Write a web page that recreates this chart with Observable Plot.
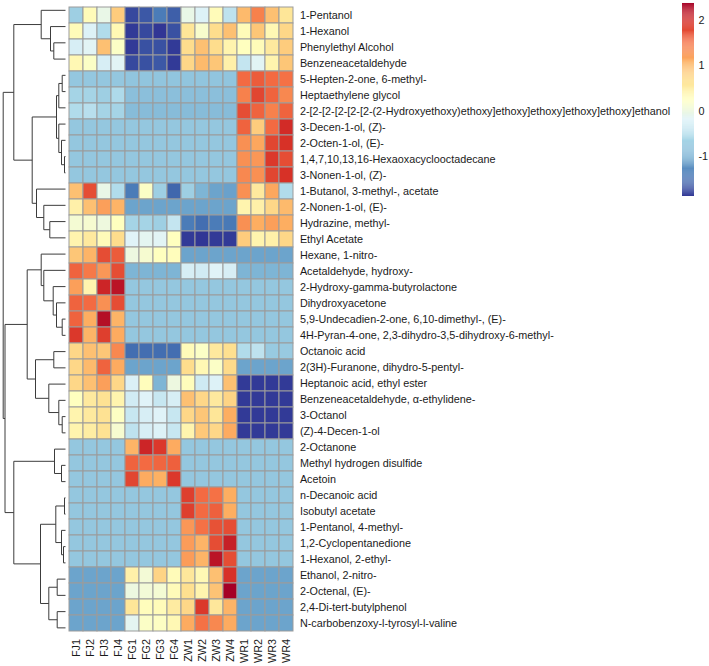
<!DOCTYPE html>
<html>
<head>
<meta charset="utf-8">
<script src="https://cdn.jsdelivr.net/npm/d3@7"></script>
<script src="https://cdn.jsdelivr.net/npm/@observablehq/plot@0.6"></script>
<style>
  html, body { margin: 0; padding: 0; background: #fff; }
  #chart { position: relative; width: 709px; height: 666px; overflow: hidden; background: #fff; }
  #chart svg { position: absolute; }
</style>
</head>
<body>
<div id="chart"></div>
<script>
// Samples (columns) and compounds (rows, in dendrogram order)
const samples = ["FJ1", "FJ2", "FJ3", "FJ4", "FG1", "FG2", "FG3", "FG4", "ZW1", "ZW2", "ZW3", "ZW4", "WR1", "WR2", "WR3", "WR4"];

const compounds = [
  "1-Pentanol",
  "1-Hexanol",
  "Phenylethyl Alcohol",
  "Benzeneacetaldehyde",
  "5-Hepten-2-one, 6-methyl-",
  "Heptaethylene glycol",
  "2-[2-[2-[2-[2-[2-(2-Hydroxyethoxy)ethoxy]ethoxy]ethoxy]ethoxy]ethoxy]ethanol",
  "3-Decen-1-ol, (Z)-",
  "2-Octen-1-ol, (E)-",
  "1,4,7,10,13,16-Hexaoxacyclooctadecane",
  "3-Nonen-1-ol, (Z)-",
  "1-Butanol, 3-methyl-, acetate",
  "2-Nonen-1-ol, (E)-",
  "Hydrazine, methyl-",
  "Ethyl Acetate",
  "Hexane, 1-nitro-",
  "Acetaldehyde, hydroxy-",
  "2-Hydroxy-gamma-butyrolactone",
  "Dihydroxyacetone",
  "5,9-Undecadien-2-one, 6,10-dimethyl-, (E)-",
  "4H-Pyran-4-one, 2,3-dihydro-3,5-dihydroxy-6-methyl-",
  "Octanoic acid",
  "2(3H)-Furanone, dihydro-5-pentyl-",
  "Heptanoic acid, ethyl ester",
  "Benzeneacetaldehyde, \u03b1-ethylidene-",
  "3-Octanol",
  "(Z)-4-Decen-1-ol",
  "2-Octanone",
  "Methyl hydrogen disulfide",
  "Acetoin",
  "n-Decanoic acid",
  "Isobutyl acetate",
  "1-Pentanol, 4-methyl-",
  "1,2-Cyclopentanedione",
  "1-Hexanol, 2-ethyl-",
  "Ethanol, 2-nitro-",
  "2-Octenal, (E)-",
  "2,4-Di-tert-butylphenol",
  "N-carbobenzoxy-l-tyrosyl-l-valine"
];

// Row-scaled abundance, one array per compound, columns in sample order
const values = [
  [-0.70, 0.30, -0.05, 0.85, -1.75, -1.65, -1.40, -1.60, -0.05, -0.20, 0.30, -0.45, 1.00, 1.40, 0.95, 0.60],
  [0.30, -0.20, -0.55, 0.35, -1.85, -1.75, -1.88, -1.70, 0.60, 0.15, 0.70, 0.95, 0.30, 0.90, 0.35, 0.75],
  [-0.25, -0.15, 0.95, 0.20, -1.85, -1.70, -1.70, -1.85, 0.70, 0.95, 0.70, 0.40, 0.25, 0.30, 0.55, 0.85],
  [0.35, 0.20, -0.25, -0.15, -1.75, -1.70, -1.65, -1.85, 0.75, 1.00, 0.90, 0.45, -0.40, -0.15, 0.40, 0.90],
  [-0.78, -0.78, -0.78, -0.78, -0.80, -0.80, -0.80, -0.80, -0.80, -0.80, -0.80, -0.80, 1.55, 1.65, 1.55, 1.50],
  [-0.65, -0.65, -0.70, -0.58, -0.85, -0.85, -0.85, -0.85, -0.85, -0.85, -0.85, -0.85, 1.40, 1.80, 1.60, 1.35],
  [-0.55, -0.50, -0.65, -0.65, -0.88, -0.88, -0.88, -0.88, -0.88, -0.88, -0.88, -0.88, 1.75, 1.60, 1.40, 1.60],
  [-0.78, -0.78, -0.78, -0.78, -0.78, -0.78, -0.78, -0.78, -0.78, -0.78, -0.78, -0.78, 1.60, 0.85, 1.55, 2.00],
  [-0.78, -0.78, -0.78, -0.78, -0.78, -0.78, -0.78, -0.78, -0.78, -0.78, -0.78, -0.78, 1.30, 1.15, 1.80, 1.95],
  [-0.78, -0.78, -0.78, -0.78, -0.78, -0.78, -0.78, -0.78, -0.78, -0.78, -0.78, -0.78, 1.30, 1.25, 1.90, 1.75],
  [-0.78, -0.78, -0.78, -0.78, -0.78, -0.78, -0.78, -0.78, -0.78, -0.78, -0.78, -0.78, 1.35, 1.30, 1.80, 1.95],
  [0.95, 1.75, -0.05, -0.55, -1.40, 0.20, -0.70, -1.55, -0.70, -0.95, -1.10, -1.12, 1.30, 0.55, 1.15, -0.55],
  [0.45, 0.95, 1.20, 1.05, -1.10, -1.10, -1.10, -1.10, -1.10, -1.10, -1.10, -1.10, 0.40, 0.45, 0.75, 1.00],
  [0.10, 0.12, 0.02, 0.25, -0.65, -0.65, -0.70, -0.40, -1.40, -1.50, -1.40, -1.42, 1.30, 1.10, 1.20, 1.10],
  [0.40, 0.55, 0.30, 0.70, -0.18, -0.12, -0.15, 0.25, -1.85, -1.88, -1.85, -1.85, 0.85, 0.40, 0.45, 0.75],
  [0.90, 1.05, 1.75, 1.65, 0.00, 0.12, 0.25, 0.28, -1.10, -1.10, -1.10, -1.10, -1.10, -1.10, -1.10, -1.10],
  [1.60, 1.45, 1.25, 1.75, -0.95, -0.95, -0.95, -0.95, -0.25, -0.30, -0.18, -0.25, -0.95, -0.95, -0.95, -0.95],
  [1.20, 0.40, 2.05, 2.20, -0.78, -0.78, -0.78, -0.78, -0.78, -0.78, -0.78, -0.78, -0.78, -0.78, -0.78, -0.78],
  [1.60, 1.55, 1.30, 1.75, -0.78, -0.78, -0.78, -0.78, -0.78, -0.78, -0.78, -0.78, -0.78, -0.78, -0.78, -0.78],
  [1.60, 1.10, 2.25, 1.05, -0.78, -0.78, -0.78, -0.78, -0.78, -0.78, -0.78, -0.78, -0.78, -0.78, -0.78, -0.78],
  [1.90, 1.05, 1.85, 1.12, -0.78, -0.78, -0.78, -0.78, -0.78, -0.78, -0.78, -0.78, -0.78, -0.78, -0.78, -0.78],
  [0.75, 0.95, 0.90, 1.35, -1.50, -1.50, -1.50, -1.50, 0.30, 0.20, 0.55, 0.68, -0.55, -0.45, -0.75, -0.75],
  [0.75, 1.00, 1.60, 1.12, -1.10, -1.10, -1.10, -1.10, 0.70, 0.35, 0.20, 0.72, -1.10, -1.10, -1.10, -1.10],
  [0.75, 0.95, 1.20, 0.75, -0.22, 0.28, -0.95, 0.00, 0.28, -0.32, -0.20, 0.95, -1.85, -1.85, -1.85, -1.85],
  [0.25, 0.55, 0.65, 0.40, -0.30, -0.18, -0.38, -0.25, 0.95, 0.75, 0.55, 0.78, -1.85, -1.85, -1.85, -1.85],
  [0.40, 0.55, 0.65, 0.22, -0.38, -0.25, -0.18, -0.38, 0.75, 0.90, 0.60, 1.10, -1.85, -1.85, -1.85, -1.85],
  [0.40, 0.50, 0.65, 0.12, -0.45, -0.25, -0.20, -0.38, 0.40, 0.88, 0.75, 1.12, -1.85, -1.85, -1.85, -1.85],
  [-0.78, -0.78, -0.78, -0.78, 1.05, 2.05, 1.90, 1.12, -0.78, -0.78, -0.78, -0.78, -0.78, -0.78, -0.78, -0.78],
  [-0.78, -0.78, -0.78, -0.78, 1.60, 1.55, 1.58, 1.62, -0.78, -0.78, -0.78, -0.78, -0.78, -0.78, -0.78, -0.78],
  [-0.78, -0.78, -0.78, -0.78, 1.80, 1.12, 1.08, 1.90, -0.78, -0.78, -0.78, -0.78, -0.78, -0.78, -0.78, -0.78],
  [-0.78, -0.78, -0.78, -0.78, -0.78, -0.78, -0.78, -0.78, 1.85, 1.55, 1.50, 1.10, -0.78, -0.78, -0.78, -0.78],
  [-0.78, -0.78, -0.78, -0.78, -0.78, -0.78, -0.78, -0.78, 1.85, 1.55, 1.62, 1.10, -0.78, -0.78, -0.78, -0.78],
  [-0.78, -0.78, -0.78, -0.78, -0.78, -0.78, -0.78, -0.78, 1.25, 1.50, 1.72, 1.75, -0.78, -0.78, -0.78, -0.78],
  [-0.78, -0.78, -0.78, -0.78, -0.78, -0.78, -0.78, -0.78, 1.22, 1.05, 1.75, 2.10, -0.78, -0.78, -0.78, -0.78],
  [-0.78, -0.78, -0.78, -0.78, -0.78, -0.78, -0.78, -0.78, 1.22, 1.05, 2.20, 1.75, -0.78, -0.78, -0.78, -0.78],
  [-1.10, -1.10, -1.10, -1.10, 0.45, 0.08, 0.78, 0.30, 0.58, 0.35, 0.95, 1.95, -1.10, -1.10, -1.10, -1.10],
  [-1.10, -1.10, -1.10, -1.10, 0.00, 0.07, 0.10, 0.30, 0.68, 0.40, 0.92, 2.38, -1.10, -1.10, -1.10, -1.10],
  [-1.10, -1.10, -1.10, -1.10, 0.60, 0.28, 0.30, 0.52, 0.75, 1.90, 0.58, 1.05, -1.10, -1.10, -1.10, -1.10],
  [-1.10, -1.10, -1.10, -1.10, -0.12, 0.20, 0.22, 0.35, 1.12, 1.50, 1.35, 1.12, -1.10, -1.10, -1.10, -1.10]
];

// Row clustering, hclust style: negative = compound (-1 is the first row),
// positive = an earlier merge (1-based); third entry = merge height
const merges = [
  [-3, -4, 11.7], [-2, 1, 15.0], [-1, 2, 24.3],
  [-5, -6, 3.3], [4, -7, 6.7], [-10, -11, 1.0], [-9, 6, 4.0], [-8, 7, 6.7], [5, 8, 9.0],
  [-14, -15, 15.7], [-13, 10, 21.7], [-12, 11, 29.0], [9, 12, 33.3], [3, 13, 51.7],
  [-20, -21, 3.3], [-19, 15, 9.0], [-18, 16, 12.3], [-17, 17, 21.7], [-16, 18, 24.3],
  [-22, -23, 11.7], [-26, -27, 3.3], [-25, 21, 6.7], [-24, 22, 16.7], [20, 23, 30.0], [19, 24, 38.3],
  [-29, -30, 4.0], [-28, 26, 11.0], [-31, -32, 1.0], [-34, -35, 2.0], [-33, 29, 4.0], [28, 30, 9.7],
  [-36, -37, 8.3], [-38, -39, 8.3], [32, 33, 16.7], [31, 34, 25.0], [27, 35, 51.7],
  [25, 36, 60.5], [14, 37, 62.3]
];

// Reversed RdYlBu (11 classes) spread evenly over the data range
const paletteColors = ["#313695", "#4575b4", "#74add1", "#abd9e9", "#e0f3f8", "#ffffbf", "#fee090", "#fdae61", "#f46d43", "#d73027", "#a50026"];
const legendTicks = [-1, 0, 1, 2];

const fontFamily = "'Liberation Sans', Arial, Helvetica, sans-serif";
const fontSize = "10.8px";
const W = 709, H = 666;
const gridTop = 1.7, gridBottom = 635.5, gridLeft = 66, gridRight = 296.4;

const [vmin, vmax] = d3.extent(values.flat());
const colorScale = {
  type: "linear",
  domain: paletteColors.map((_, i) => vmin + (i * (vmax - vmin)) / (paletteColors.length - 1)),
  range: paletteColors,
  interpolate: "rgb"
};

// Tidy cells
const cells = [];
compounds.forEach((c, i) => samples.forEach((s, j) => cells.push({compound: c, sample: s, value: values[i][j]})));

// Dendrogram segments from the merge table
const nodeY = [], nodeH = [];
const childPos = (c) => c < 0 ? {y: -c - 1 + 0.5, h: 0} : {y: nodeY[c - 1], h: nodeH[c - 1]};
const segments = [];
merges.forEach(([a, b, h], k) => {
  const A = childPos(a), B = childPos(b);
  nodeY[k] = (A.y + B.y) / 2;
  nodeH[k] = h;
  segments.push({x1: h, y1: A.y, x2: h, y2: B.y});
  segments.push({x1: A.h, y1: A.y, x2: h, y2: A.y});
  segments.push({x1: B.h, y1: B.y, x2: h, y2: B.y});
});
const treeMax = d3.max(merges, (d) => d[2]);

const chart = document.getElementById("chart");

// Heatmap with labels
const heat = Plot.plot({
  width: W,
  height: H,
  marginLeft: gridLeft,
  marginRight: W - gridRight,
  marginTop: gridTop,
  marginBottom: H - gridBottom,
  style: {fontFamily, fontSize, color: "#1a1a1a", background: "transparent", overflow: "visible"},
  x: {domain: samples, padding: 0},
  y: {domain: compounds, padding: 0},
  color: colorScale,
  marks: [
    Plot.cell(cells, {x: "sample", y: "compound", fill: "value", stroke: "#9b9b9b", strokeWidth: 1}),
    Plot.axisY({anchor: "right", tickSize: 0, tickPadding: 3, label: null}),
    Plot.axisX({anchor: "bottom", tickSize: 0, tickPadding: 3, tickRotate: -90, label: null})
  ]
});
heat.style.left = "0px";
heat.style.top = "0px";
chart.appendChild(heat);

// Row dendrogram
const tree = Plot.plot({
  width: gridLeft,
  height: H,
  marginLeft: 2.7,
  marginRight: 1,
  marginTop: gridTop,
  marginBottom: H - gridBottom,
  style: {background: "transparent"},
  x: {domain: [treeMax, 0], axis: null},
  y: {domain: [0, compounds.length], reverse: true, axis: null},
  marks: [
    Plot.link(segments, {x1: "x1", y1: "y1", x2: "x2", y2: "y2", stroke: "#3c3c3c", strokeWidth: 1})
  ]
});
tree.style.left = "0px";
tree.style.top = "0px";
chart.appendChild(tree);

// Colour key
const nSteps = 200;
const stepSize = (vmax - vmin) / nSteps;
const steps = d3.range(nSteps).map((i) => vmin + i * stepSize);
const key = Plot.plot({
  width: 37,
  height: 200,
  marginLeft: 10,
  marginRight: 15,
  marginTop: 3,
  marginBottom: 4,
  style: {fontFamily, fontSize, color: "#1a1a1a", background: "transparent", overflow: "visible"},
  x: {domain: [0, 1], axis: null},
  y: {domain: [vmin, vmax]},
  color: colorScale,
  marks: [
    Plot.rect(steps, {x1: 0, x2: 1, y1: (d) => d, y2: (d) => d + stepSize * 1.02, fill: (d) => d + stepSize / 2}),
    Plot.axisY(legendTicks, {anchor: "right", tickSize: 0, tickPadding: 4, label: null, tickFormat: (d) => String(d)})
  ]
});
key.style.left = "672px";
key.style.top = "0px";
chart.appendChild(key);
</script>
</body>
</html>
